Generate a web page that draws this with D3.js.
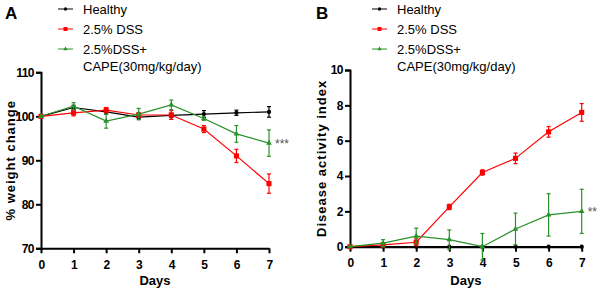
<!DOCTYPE html>
<html>
<head>
<meta charset="utf-8">
<script src="https://cdn.jsdelivr.net/npm/d3@7"></script>
<style>
  body { margin: 0; background: #fff; }
  svg { font-family: "Liberation Sans", Arial, sans-serif; }
  .axis path, .axis line { stroke: #000; stroke-width: 2; }
  .axis text { font-size: 12px; font-weight: bold; fill: #000; }
</style>
</head>
<body>
<svg id="chart" width="600" height="292"></svg>
<script>
// data
const days = [0, 1, 2, 3, 4, 5, 6, 7];
const seriesNames = ['Healthy', '2.5% DSS', '2.5%DSS+'];

// panel A: % weight change
const weightHealthy = [100, 102, 101, 99.8, 100.2, 100.5, 100.8, 101];
const weightHealthyErr = [0, 0.5, 0.5, 0.4, 0.5, 0.8, 0.6, 1.2];
const weightDSS = [100, 100.8, 101.4, 100.3, 100.3, 97.1, 91, 84.7];
const weightDSSErr = [0, 0.7, 0.6, 0.5, 1.0, 0.8, 1.5, 2.2];
const weightCAPE = [100, 102.3, 98.9, 100.5, 102.6, 99.5, 96, 93.9];
const weightCAPEErr = [0, 0.8, 1.6, 1.3, 1.1, 0.4, 1.9, 3.0];

// panel B: disease activity index
const daiHealthy = [0, 0, 0, 0, 0, 0, 0, 0];
const daiHealthyErr = [0, 0, 0, 0, 0, 0, 0, 0];
const daiDSS = [0, 0.1, 0.25, 2.25, 4.2, 5.0, 6.5, 7.6];
const daiDSSErr = [0, 0.1, 0.2, 0.15, 0.15, 0.3, 0.3, 0.5];
const daiCAPE = [0, 0.2, 0.6, 0.4, 0, 1.0, 1.8, 2.0];
const daiCAPEErr = [0, 0.2, 0.45, 0.55, 0.75, 0.9, 1.2, 1.25];

const colors = ['#000000', '#ff0000', '#2a922a'];
const markers = [d3.symbolCircle, d3.symbolSquare, d3.symbolTriangle];
const markerSize = [14, 26, 14];

const svg = d3.select('#chart');

function drawPanel(cfg) {
  const x = d3.scaleLinear().domain([0, 7]).range([cfg.left, cfg.right]);
  const y = d3.scaleLinear().domain(cfg.yDomain).range([cfg.bottom, cfg.top]);
  const g = svg.append('g');

  // axes
  g.append('g')
      .attr('class', 'axis')
      .attr('transform', `translate(0,${cfg.bottom})`)
      .call(d3.axisBottom(x).tickValues(days).tickSize(5).tickSizeOuter(0).tickFormat(d3.format('d')))
      .selectAll('text').attr('dy', '1.05em');
  g.append('g')
      .attr('class', 'axis')
      .attr('transform', `translate(${cfg.left},0)`)
      .call(d3.axisLeft(y).tickValues(cfg.yTicks).tickSize(5).tickSizeOuter(5).tickPadding(2));

  g.selectAll('.axis text').style('letter-spacing', '-0.5px');

  // series
  cfg.series.forEach((s, i) => {
    const pts = days.map((d, j) => ({ d, v: s.values[j], e: s.err[j] }));
    g.append('path')
        .datum(pts)
        .attr('fill', 'none')
        .attr('stroke', colors[i])
        .attr('stroke-width', 1.2)
        .attr('d', d3.line().x(p => x(p.d)).y(p => y(p.v)));

    const eb = g.append('g').attr('stroke', colors[i]).attr('stroke-width', 1.2);
    pts.filter(p => p.e > 0).forEach(p => {
      eb.append('line').attr('x1', x(p.d)).attr('x2', x(p.d))
          .attr('y1', y(p.v - p.e)).attr('y2', y(p.v + p.e));
      [p.v - p.e, p.v + p.e].forEach(v => {
        eb.append('line').attr('x1', x(p.d) - 2).attr('x2', x(p.d) + 2)
            .attr('y1', y(v)).attr('y2', y(v));
      });
    });

    g.append('g').selectAll('path')
        .data(pts)
        .join('path')
        .attr('transform', p => `translate(${x(p.d)},${y(p.v)})`)
        .attr('d', d3.symbol().type(markers[i]).size(markerSize[i]))
        .attr('fill', colors[i]);
  });

  // significance mark
  g.append('text')
      .attr('x', x(7) + 6)
      .attr('y', y(cfg.series[2].values[7]) + 5)
      .attr('font-size', 12)
      .attr('fill', '#555')
      .text(cfg.stars);

  // axis titles
  g.append('text')
      .attr('x', (cfg.left + cfg.right) / 2)
      .attr('y', 285)
      .attr('text-anchor', 'middle')
      .attr('font-size', 13)
      .attr('font-weight', 'bold')
      .text('Days');
  g.append('text')
      .attr('transform', `translate(${cfg.yTitleX},${(cfg.top + cfg.bottom) / 2}) rotate(-90)`)
      .attr('text-anchor', 'middle')
      .attr('font-size', 13)
      .attr('font-weight', 'bold')
      .attr('letter-spacing', cfg.yTitleSpacing)
      .text(cfg.yTitle);

  // panel letter
  g.append('text')
      .attr('x', cfg.letterX)
      .attr('y', 19)
      .attr('font-size', 17)
      .attr('font-weight', 'bold')
      .text(cfg.letter);

  // legend
  const lg = g.append('g').attr('transform', `translate(${cfg.legendX},0)`);
  const rowsY = [9, 29, 49];
  seriesNames.forEach((name, i) => {
    lg.append('line').attr('x1', 0).attr('x2', 15)
        .attr('y1', rowsY[i]).attr('y2', rowsY[i])
        .attr('stroke', colors[i]).attr('stroke-width', 1);
    lg.append('path')
        .attr('transform', `translate(7.5,${rowsY[i]})`)
        .attr('d', d3.symbol().type(markers[i]).size(markerSize[i] * 0.6))
        .attr('fill', colors[i]);
    lg.append('text')
        .attr('x', 25).attr('y', rowsY[i] + 4.5)
        .attr('font-size', 13)
        .text(name);
  });
  lg.append('text')
      .attr('x', 25).attr('y', 70.5)
      .attr('font-size', 13)
      .text('CAPE(30mg/kg/day)');
}

drawPanel({
  letter: 'A', letterX: 5, legendX: 58,
  left: 41, right: 269, top: 72.3, bottom: 248.3,
  yDomain: [70, 110], yTicks: [70, 80, 90, 100, 110],
  yTitle: '% weight change', yTitleX: 15, yTitleSpacing: '1px',
  stars: '***',
  series: [
    { values: weightHealthy, err: weightHealthyErr },
    { values: weightDSS, err: weightDSSErr },
    { values: weightCAPE, err: weightCAPEErr }
  ]
});

drawPanel({
  letter: 'B', letterX: 316, legendX: 372,
  left: 350, right: 581.7, top: 70, bottom: 246.7,
  yDomain: [0, 10], yTicks: [0, 2, 4, 6, 8, 10],
  yTitle: 'Disease activity index', yTitleX: 326, yTitleSpacing: '1px',
  stars: '**',
  series: [
    { values: daiHealthy, err: daiHealthyErr },
    { values: daiDSS, err: daiDSSErr },
    { values: daiCAPE, err: daiCAPEErr }
  ]
});
</script>
</body>
</html>
